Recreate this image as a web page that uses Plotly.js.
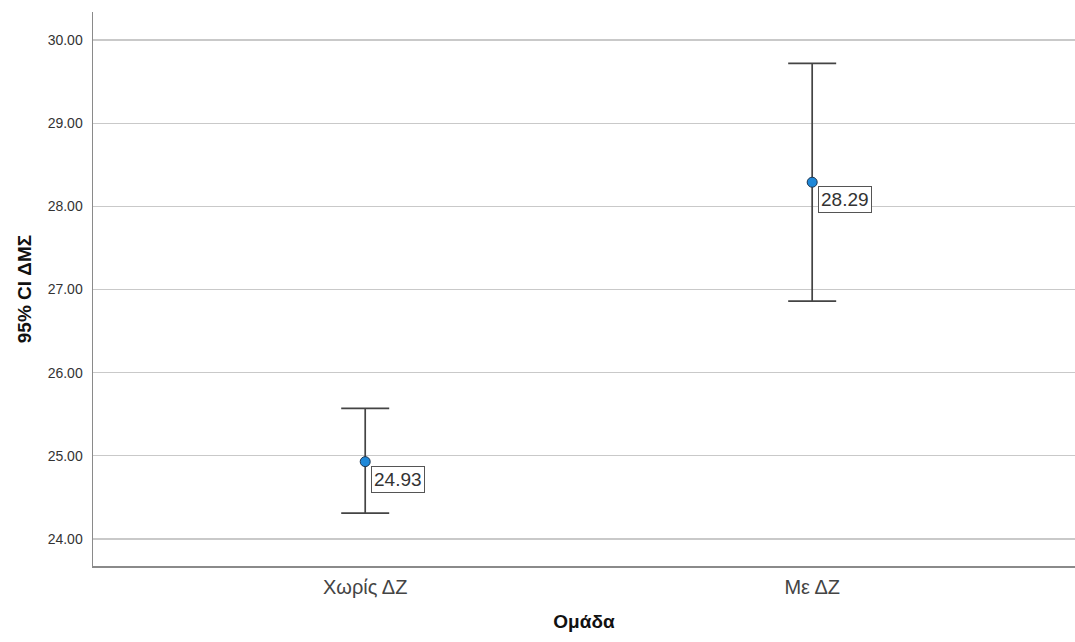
<!DOCTYPE html>
<html>
<head>
<meta charset="utf-8">
<script src="https://cdn.plot.ly/plotly-3.0.1.min.js"></script>
<style>
  html, body { margin: 0; padding: 0; background: #fff; }
  #chart { width: 1075px; height: 642px; }
</style>
</head>
<body>
<div id="chart"></div>
<script>
// Group means of ΔΜΣ with 95% confidence intervals
const groups = ['Χωρίς ΔΖ', 'Με ΔΖ'];
const means = [24.93, 28.29];
const ciUpper = [25.57, 29.72];
const ciLower = [24.31, 26.86];

const errPlus = means.map((m, i) => ciUpper[i] - m);
const errMinus = means.map((m, i) => m - ciLower[i]);

const trace = {
  type: 'scatter',
  mode: 'markers',
  x: groups,
  y: means,
  marker: {
    color: '#1f88d8',
    size: 10,
    line: { color: '#1d3550', width: 1 }
  },
  error_y: {
    type: 'data',
    symmetric: false,
    array: errPlus,
    arrayminus: errMinus,
    color: '#444444',
    thickness: 1.7,
    width: 24
  },
  hoverinfo: 'x+y'
};

// Value labels next to each mean
const labels = groups.map((g, i) => ({
  x: g,
  y: means[i],
  xref: 'x',
  yref: 'y',
  text: means[i].toFixed(2),
  showarrow: false,
  xanchor: 'left',
  yanchor: 'top',
  xshift: 6,
  yshift: -4,
  bgcolor: '#ffffff',
  bordercolor: '#555555',
  borderwidth: 1,
  borderpad: 2,
  font: { family: 'Liberation Sans, Arial, sans-serif', size: 19, color: '#333' }
}));

const layout = {
  width: 1075,
  height: 642,
  margin: { l: 93, r: 0, t: 12, b: 76 },
  paper_bgcolor: '#ffffff',
  plot_bgcolor: '#ffffff',
  showlegend: false,
  font: { family: 'Liberation Sans, Arial, sans-serif', color: '#333' },
  xaxis: {
    type: 'category',
    range: [-0.609, 1.588],
    showgrid: false,
    zeroline: false,
    showline: true,
    linecolor: '#8a8a8a',
    linewidth: 1.5,
    ticks: '',
    ticklabelstandoff: 2,
    tickfont: { size: 20, color: '#444' },
    title: {
      text: 'Ομάδα',
      font: { size: 19, color: '#111', weight: 'bold' },
      standoff: 18
    }
  },
  yaxis: {
    range: [23.675, 30.337],
    dtick: 1,
    tick0: 24,
    tickformat: '.2f',
    showgrid: true,
    gridcolor: '#c9c9c9',
    gridwidth: 1.2,
    zeroline: false,
    showline: true,
    linecolor: '#8a8a8a',
    linewidth: 1.5,
    ticks: '',
    ticklabelstandoff: 6,
    tickfont: { size: 14, color: '#333' },
    title: {
      text: '95% CI ΔΜΣ',
      font: { size: 19, color: '#111', weight: 'bold' },
      standoff: 11
    }
  },
  annotations: labels
};

Plotly.newPlot('chart', [trace], layout, { displayModeBar: false, staticPlot: true });
</script>
</body>
</html>
